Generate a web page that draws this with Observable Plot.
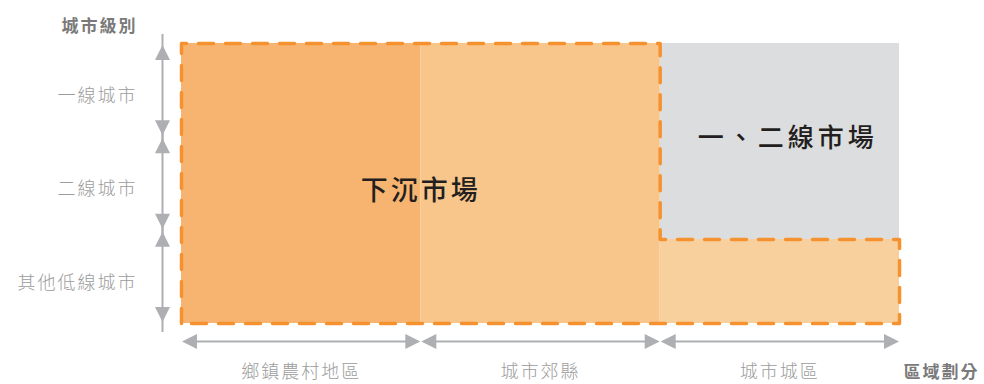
<!DOCTYPE html>
<html>
<head>
<meta charset="utf-8">
<script src="https://cdn.jsdelivr.net/npm/d3@7"></script>
<script src="https://cdn.jsdelivr.net/npm/@observablehq/plot@0.6"></script>
<style>
  html, body { margin: 0; padding: 0; background: #ffffff; }
  #chart { width: 984px; height: 384px; }
</style>
</head>
<body>
<div id="chart"></div>
<script>
// ---- data ----
const regions = ["鄉鎮農村地區", "城市郊縣", "城市城區"];          // x categories (區域劃分)
const tiers = ["一線城市", "二線城市", "其他低線城市"];              // y categories (城市級別), top to bottom
const lowerTierRows = [3, 3, 0.9];                                   // rows covered by 下沉市場 in each region
const marketLabels = ["下沉市場", "一、二線市場"];
const xTitle = "區域劃分";
const yTitle = "城市級別";

// ---- styles ----
const regionFills = ["#F6B470", "#F8C58A", "#F8D09E"];
const upperFill = "#DCDDDF";
const dashColor = "#F5922F";
const arrowColor = "#AEAFB3";
const labelColor = "#9C9C9C";
const titleColor = "#7A7A7A";
const font = "'Noto Sans CJK TC', 'Noto Sans CJK SC', sans-serif";

// ---- derived tables ----
const nRows = tiers.length;
const cols = regions.map((r, i) => ({name: r, x1: i, x2: i + 1, h: lowerTierRows[i], fill: regionFills[i]}));
const upper = cols.filter(c => c.h < nRows);
const rows = tiers.map((t, i) => ({name: t, y1: nRows - 1 - i, y2: nRows - i}));

const outline = [{x: 0, y: 0}];
cols.forEach(c => { outline.push({x: c.x1, y: c.h}); outline.push({x: c.x2, y: c.h}); });
outline.push({x: cols.length, y: 0});
outline.push({x: 0, y: 0});

// triangle arrowheads as custom symbols (tip at origin)
const L = 15, W = 7.5;
function tri(dir, g) {
  return {draw(ctx) {
    if (dir === "up") { ctx.moveTo(0, g); ctx.lineTo(W, g + L); ctx.lineTo(-W, g + L); }
    if (dir === "down") { ctx.moveTo(0, -g); ctx.lineTo(W, -g - L); ctx.lineTo(-W, -g - L); }
    if (dir === "left") { ctx.moveTo(g, 0); ctx.lineTo(g + L, W); ctx.lineTo(g + L, -W); }
    if (dir === "right") { ctx.moveTo(-g, 0); ctx.lineTo(-g - L, W); ctx.lineTo(-g - L, -W); }
    ctx.closePath();
  }};
}

const up0 = upper[0];
const lowerLabelPos = [{x: (cols[0].x1 + upper[0].x1) / 2, y: nRows / 2}];
const upperLabelPos = [{x: (up0.x1 + up0.x2) / 2, y: (up0.h + nRows) / 2}];

const chart = Plot.plot({
  width: 984,
  height: 384,
  marginLeft: 181,
  marginRight: 85,
  marginTop: 43,
  marginBottom: 61,
  x: {domain: [0, regions.length], axis: null},
  y: {domain: [0, nRows], axis: null},
  style: {fontFamily: font, background: "#ffffff", overflow: "visible"},
  marks: [
    Plot.rect(upper, {x1: "x1", x2: "x2", y1: "h", y2: () => nRows, fill: upperFill}),
    Plot.rect(cols, {x1: "x1", x2: "x2", y1: () => 0, y2: "h", fill: "fill"}),
    Plot.line(outline, {x: "x", y: "y", stroke: dashColor, strokeWidth: 3.5,
      strokeDasharray: "15,12", strokeLinejoin: "round", curve: "linear"}),

    // vertical arrows (城市級別)
    Plot.ruleX(rows, {x: 0, y1: "y1", y2: "y2", dx: -19, insetTop: 9, insetBottom: 9,
      stroke: arrowColor, strokeWidth: 2}),
    Plot.dot(rows, {x: 0, y: "y2", dx: -19, symbol: tri("up", 1.5), fill: arrowColor, stroke: "none"}),
    Plot.dot(rows, {x: 0, y: "y1", dx: -19, symbol: tri("down", 1.5), fill: arrowColor, stroke: "none"}),

    // horizontal arrows (區域劃分)
    Plot.ruleY(cols, {y: 0, x1: "x1", x2: "x2", dy: 18, insetLeft: 9, insetRight: 9,
      stroke: arrowColor, strokeWidth: 2}),
    Plot.dot(cols, {x: "x1", y: 0, dy: 18, symbol: tri("left", 0.5), fill: arrowColor, stroke: "none"}),
    Plot.dot(cols, {x: "x2", y: 0, dy: 18, symbol: tri("right", 0.5), fill: arrowColor, stroke: "none"}),

    // tier labels
    Plot.text(rows, {x: 0, y: d => (d.y1 + d.y2) / 2, text: "name", dx: -44, dy: 6,
      textAnchor: "end", fontSize: 18, fill: labelColor, fontWeight: 300}),
    // region labels
    Plot.text(cols, {x: d => (d.x1 + d.x2) / 2, y: 0, text: "name", dy: 49,
      textAnchor: "middle", fontSize: 18, fill: labelColor, fontWeight: 300}),
    // axis titles
    Plot.text([yTitle], {x: 0, y: nRows, text: d => d, dx: -44, dy: -17,
      textAnchor: "end", fontSize: 17, fontWeight: "bold", fill: titleColor}),
    Plot.text([xTitle], {x: regions.length, y: 0, text: d => d, dx: 4, dy: 49,
      textAnchor: "start", fontSize: 17, fontWeight: "bold", fill: titleColor}),

    // market labels
    Plot.text(lowerLabelPos, {x: "x", y: "y", text: () => marketLabels[0], dy: 8,
      fontSize: 27, fontWeight: 500, fill: "#231F20"}),
    Plot.text(upperLabelPos, {x: "x", y: "y", text: () => marketLabels[1], dx: 8, dy: -3,
      fontSize: 26, fontWeight: 500, fill: "#231F20"})
  ]
});

d3.select(chart).selectAll("text").each(function() {
  const t = this.textContent;
  const big = marketLabels.includes(t);
  d3.select(this).attr("letter-spacing", big ? (t.length > 4 ? "4px" : "3px") : "2px");
});

document.getElementById("chart").appendChild(chart);
</script>
</body>
</html>
